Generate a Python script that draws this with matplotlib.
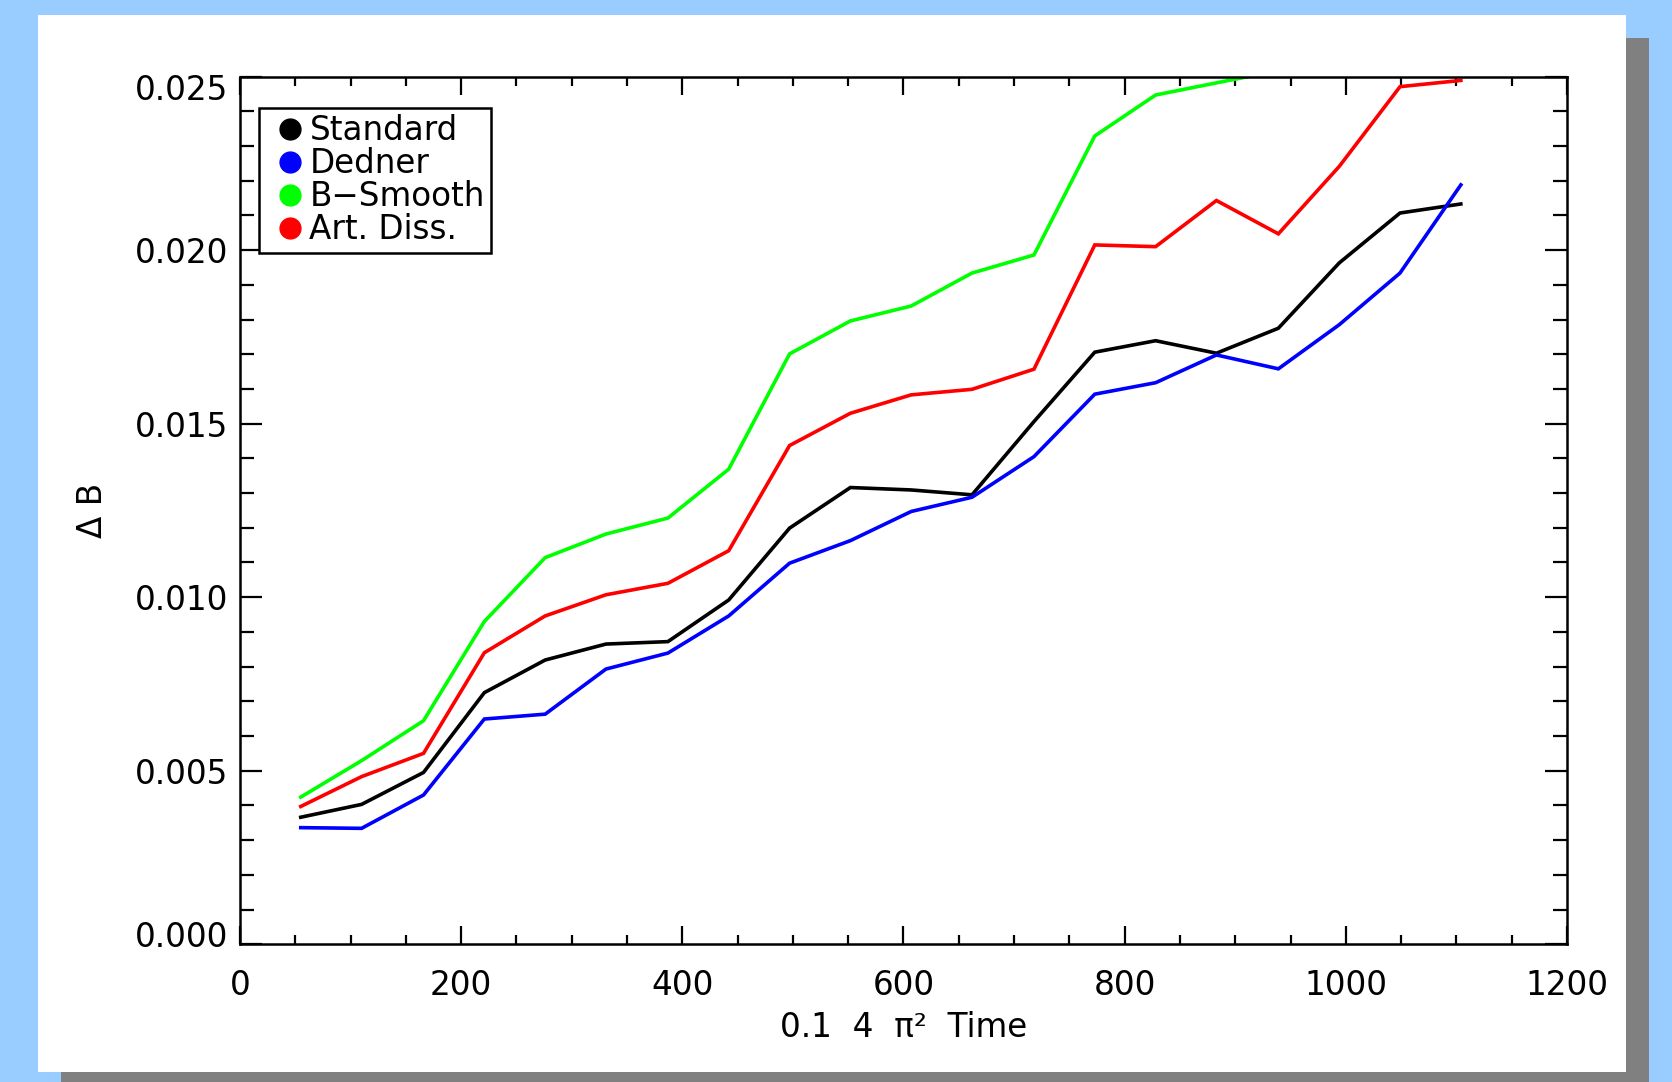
import matplotlib
matplotlib.use("Agg")
import matplotlib.pyplot as plt
from matplotlib.lines import Line2D
from matplotlib.patches import Rectangle
from matplotlib.ticker import MultipleLocator
from matplotlib.transforms import ScaledTranslation

# time samples (units of 0.1 * 4 pi^2)
time = [55, 110, 166, 221, 276, 331, 387, 442, 497, 552,
        607, 662, 718, 773, 828, 883, 939, 994, 1049, 1104]

# Delta B for each divergence-cleaning scheme
standard = [0.00366, 0.00403, 0.00495, 0.00725, 0.00819, 0.00865, 0.00872,
            0.00992, 0.01199, 0.01316, 0.01309, 0.01295, 0.01506, 0.01706,
            0.01739, 0.01703, 0.01775, 0.01963, 0.02107, 0.02133]
dedner = [0.00336, 0.00334, 0.00430, 0.00649, 0.00663, 0.00793, 0.00839,
          0.00946, 0.01098, 0.01163, 0.01247, 0.01288, 0.01405, 0.01585,
          0.01618, 0.01698, 0.01658, 0.01785, 0.01934, 0.02188]
bsmooth = [0.00424, 0.00529, 0.00644, 0.00930, 0.01114, 0.01182, 0.01228,
           0.01369, 0.01701, 0.01796, 0.01839, 0.01934, 0.01986, 0.02329,
           0.02447, 0.02482, 0.02517, 0.02580, 0.02660, 0.02730]
artdiss = [0.00397, 0.00483, 0.00550, 0.00840, 0.00946, 0.01007, 0.01040,
           0.01134, 0.01437, 0.01530, 0.01583, 0.01599, 0.01657, 0.02015,
           0.02010, 0.02143, 0.02047, 0.02241, 0.02471, 0.02489]

names = ["Standard", "Dedner", "B\u2212Smooth", "Art. Diss."]
colors = ["black", "#0000ff", "#00ff00", "#ff0000"]

xticks = [0, 200, 400, 600, 800, 1000, 1200]
yticks = [0.000, 0.005, 0.010, 0.015, 0.020, 0.025]

FS = 23.5
plt.rcParams["font.family"] = "DejaVu Sans"

fig = plt.figure(figsize=(16.72, 10.82), dpi=100, facecolor="#99ccff")

# white slide panel with a grey drop shadow
fig.patches.append(Rectangle((0.0365, -0.012), 0.9498, 0.9769,
                             transform=fig.transFigure, facecolor="#808080",
                             edgecolor="none", zorder=0))
fig.patches.append(Rectangle((0.0227, 0.0092), 0.9498, 0.9769,
                             transform=fig.transFigure, facecolor="white",
                             edgecolor="none", zorder=1))

ax = fig.add_axes([0.1435, 0.1273, 0.7937, 0.8019])
ax.set_zorder(2)

for vals, col in zip([standard, dedner, bsmooth, artdiss], colors):
    ax.plot(time, vals, color=col, lw=2.6, solid_joinstyle="miter")

ax.set_xlim(0, 1200)
ax.set_ylim(0, 0.025)

ax.set_xticks(xticks)
ax.set_xticklabels([f"{v:d}" for v in xticks])
ax.set_yticks(yticks)
ax.set_yticklabels([f"{v:.3f}" for v in yticks])
ax.xaxis.set_minor_locator(MultipleLocator(50))
ax.yaxis.set_minor_locator(MultipleLocator(0.001))

ax.tick_params(axis="both", which="both", direction="in", top=True, right=True,
               width=1.6, labelsize=FS)
ax.tick_params(axis="x", which="major", length=13, pad=18)
ax.tick_params(axis="x", which="minor", length=6.5)
ax.tick_params(axis="y", which="major", length=16, pad=8.5)
ax.tick_params(axis="y", which="minor", length=10)
for sp in ax.spines.values():
    sp.set_linewidth(1.8)

# nudge the end labels on the y axis inward
ylabs = ax.get_yticklabels()
ylabs[0].set_transform(ylabs[0].get_transform()
                       + ScaledTranslation(0, 0.10, fig.dpi_scale_trans))
ylabs[-1].set_transform(ylabs[-1].get_transform()
                        + ScaledTranslation(0, -0.105, fig.dpi_scale_trans))

ax.set_ylabel("\u0394 B", fontsize=FS)
ax.yaxis.set_label_coords(-0.0985, 0.5)
ax.set_xlabel("0.1  4  \u03c0\u00b2  Time", fontsize=FS)
ax.xaxis.set_label_coords(0.5, -0.077)

handles = [Line2D([], [], ls="none", marker="o", ms=15, color=c,
                  markeredgecolor=c) for c in colors]
leg = ax.legend(handles, names, loc="upper left",
                bbox_to_anchor=(0.0143, 0.9639), borderaxespad=0,
                fontsize=FS, fancybox=False, framealpha=1, edgecolor="black",
                handlelength=1.5, handletextpad=-0.15, labelspacing=0.0,
                borderpad=0.2)
leg.get_frame().set_linewidth(1.8)

fig.savefig("out.png", dpi=100, facecolor=fig.get_facecolor())
